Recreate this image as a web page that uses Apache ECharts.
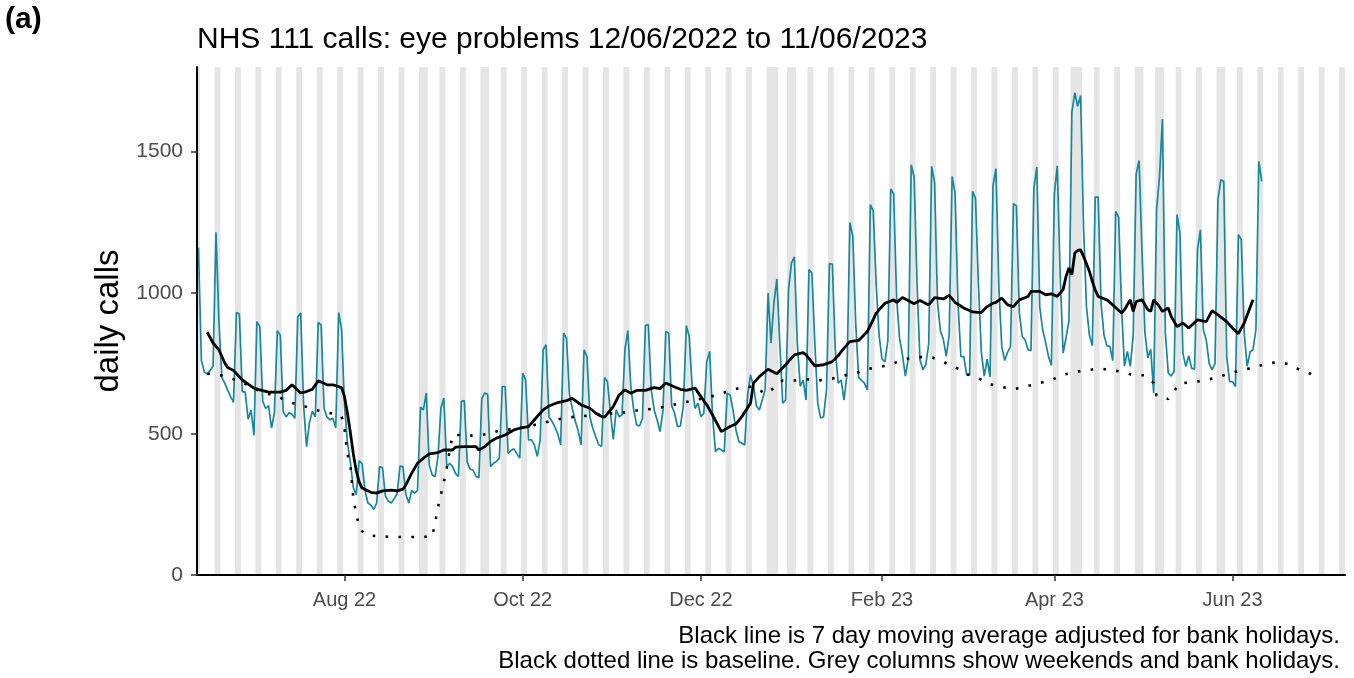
<!DOCTYPE html>
<html><head><meta charset="utf-8">
<script src="https://cdn.jsdelivr.net/npm/echarts@6/dist/echarts.min.js"></script>
<style>html,body{margin:0;padding:0;background:#fff}#c{width:1354px;height:678px}</style>
</head><body><div id="c"></div>
<script>
// ---------- data ----------
const startDate = '2022-06-12';
const dailyCalls = [
 1160,
 760,720,712,725,740,1214,900,
 700,680,655,632,612,930,925,
 650,648,552,585,495,898,880,
 615,590,600,521,574,866,850,
 580,560,575,570,555,915,928,
 600,455,540,580,560,895,885,
 590,560,550,555,522,930,870,
 600,470,400,310,285,405,395,
 300,255,248,232,255,384,380,
 280,262,255,270,288,386,384,
 285,255,300,290,300,595,585,
 645,390,355,349,420,592,627,
 384,396,384,360,349,615,618,
 400,375,372,349,345,625,645,
 640,384,396,402,414,668,668,
 431,441,447,430,414,715,691,
 479,479,461,420,480,798,816,
 560,545,525,500,461,857,839,
 640,590,545,510,461,798,774,
 560,520,490,462,455,700,686,
 580,480,585,561,567,800,866,
 668,585,532,528,555,885,887,
 656,585,550,508,580,863,857,
 600,573,526,528,600,883,845,
 668,590,609,561,573,756,792,
 561,437,449,443,437,644,638,
 585,514,473,467,461,640,709,
 668,600,585,620,656,999,822,
 963,1049,822,609,620,1011,1105,
 1127,822,668,691,620,1082,1070,
 822,609,556,561,656,1103,1102,
 798,680,691,620,709,1249,1200,
 893,700,690,680,656,1312,1290,
 1030,850,765,756,830,1368,1350,
 980,840,780,705,765,1454,1410,
 1030,762,727,745,820,1448,1390,
 965,865,835,775,850,1412,1355,
 965,774,774,709,709,1359,1335,
 1030,790,705,765,701,1380,1440,
 1020,810,760,790,810,1316,1308,
 930,845,833,798,795,1371,1446,
 950,869,825,774,742,1350,1450,
 1060,786,840,900,1640,1708,1661,
 1699,1230,950,850,812,1339,1339,
 960,850,812,810,760,1288,1268,
 950,740,792,739,850,1420,1469,
 1150,860,770,800,644,1294,1412,
 1616,857,715,705,721,1277,1212,
 786,739,777,733,729,1152,1223,
 869,833,750,727,750,1330,1400,
 1395,774,685,685,668,1206,1188,
 857,739,790,798,869,1466,1395
];

const avgDates = [
 '2022-06-15','2022-06-17','2022-06-19','2022-06-21','2022-06-22','2022-06-24','2022-06-27','2022-07-01','2022-07-03','2022-07-06',
 '2022-07-10','2022-07-12','2022-07-14','2022-07-17','2022-07-19','2022-07-21','2022-07-23','2022-07-26','2022-07-28','2022-07-31',
 '2022-08-01','2022-08-02','2022-08-03','2022-08-04','2022-08-05','2022-08-06','2022-08-07','2022-08-10','2022-08-12','2022-08-14',
 '2022-08-17','2022-08-19','2022-08-21','2022-08-22','2022-08-24','2022-08-26','2022-08-28','2022-08-30','2022-09-02','2022-09-04',
 '2022-09-07','2022-09-08','2022-09-11','2022-09-15','2022-09-16','2022-09-18','2022-09-20','2022-09-22','2022-09-25','2022-09-28',
 '2022-09-30','2022-10-03','2022-10-05','2022-10-08','2022-10-10','2022-10-13','2022-10-16','2022-10-18','2022-10-20','2022-10-21',
 '2022-10-24','2022-10-26','2022-10-28','2022-10-29','2022-11-01','2022-11-03','2022-11-05','2022-11-07','2022-11-09','2022-11-12',
 '2022-11-15','2022-11-17','2022-11-19','2022-11-22','2022-11-24','2022-11-26','2022-11-29','2022-12-01','2022-12-03','2022-12-05',
 '2022-12-08','2022-12-11','2022-12-13','2022-12-15','2022-12-18','2022-12-19','2022-12-21','2022-12-24','2022-12-27','2022-12-30',
 '2023-01-02','2023-01-05','2023-01-06','2023-01-09','2023-01-12','2023-01-15','2023-01-17','2023-01-19','2023-01-21','2023-01-24',
 '2023-01-27','2023-01-29','2023-01-30','2023-02-02','2023-02-05','2023-02-06','2023-02-08','2023-02-12','2023-02-14','2023-02-17',
 '2023-02-19','2023-02-22','2023-02-24','2023-02-26','2023-03-01','2023-03-04','2023-03-07','2023-03-09','2023-03-11','2023-03-12',
 '2023-03-14','2023-03-16','2023-03-18','2023-03-20','2023-03-23','2023-03-24','2023-03-27','2023-03-29','2023-03-31','2023-04-02',
 '2023-04-04','2023-04-05','2023-04-06','2023-04-07','2023-04-08','2023-04-09','2023-04-10','2023-04-11','2023-04-13','2023-04-14',
 '2023-04-15','2023-04-16','2023-04-19','2023-04-21','2023-04-24','2023-04-25','2023-04-27','2023-04-28','2023-04-29','2023-05-01',
 '2023-05-03','2023-05-04','2023-05-05','2023-05-07','2023-05-08','2023-05-10','2023-05-11','2023-05-13','2023-05-15','2023-05-17',
 '2023-05-20','2023-05-23','2023-05-25','2023-05-27','2023-05-30','2023-06-01','2023-06-03','2023-06-05','2023-06-08'
];
const avgValues = [
 860,822,798,751,735,725,691,662,656,648,
 648,654,674,645,650,658,688,674,674,664,
 632,573,505,430,370,330,308,293,290,298,
 301,298,304,319,361,396,414,429,434,443,
 443,453,455,455,443,455,473,485,496,514,
 520,526,550,585,599,611,618,626,611,603,
 591,573,562,559,597,638,656,644,654,654,
 664,660,680,666,658,654,662,632,603,567,
 508,526,535,561,609,680,703,729,713,745,
 780,788,780,741,745,756,777,804,827,831,
 863,905,928,963,975,966,983,961,973,957,
 983,978,991,966,946,932,930,951,963,966,
 981,957,951,975,987,1005,1005,993,996,987,
 1011,1058,1088,1064,1141,1150,1152,1129,1076,1040,
 1010,987,975,957,928,940,975,934,969,975,
 940,934,975,951,934,946,916,880,893,875,
 904,898,937,922,898,875,855,893,975
];

const baselineDates = [
 '2022-06-15','2022-06-20','2022-06-24','2022-06-28','2022-07-02','2022-07-05','2022-07-10','2022-07-14','2022-07-18','2022-07-22',
 '2022-07-27','2022-07-31','2022-08-01','2022-08-02','2022-08-03','2022-08-04','2022-08-05','2022-08-06','2022-08-07','2022-08-09',
 '2022-08-15','2022-08-22','2022-08-31','2022-09-01','2022-09-02','2022-09-03','2022-09-04','2022-09-05','2022-09-06','2022-09-07',
 '2022-09-11','2022-09-15','2022-09-19','2022-09-23','2022-09-28','2022-10-02','2022-10-06','2022-10-10','2022-10-15','2022-10-19',
 '2022-10-23','2022-10-28','2022-11-01','2022-11-06','2022-11-10','2022-11-14','2022-11-18','2022-11-23','2022-11-27','2022-12-06',
 '2022-12-10','2022-12-14','2022-12-19','2022-12-21','2022-12-23','2022-12-26','2022-12-29','2023-01-02','2023-01-06','2023-01-10',
 '2023-01-15','2023-01-19','2023-01-23','2023-01-27','2023-02-01','2023-02-05','2023-02-09','2023-02-13','2023-02-18','2023-02-22',
 '2023-02-26','2023-03-02','2023-03-06','2023-03-10','2023-03-14','2023-03-18','2023-03-23','2023-03-27','2023-03-31','2023-04-04',
 '2023-04-08','2023-04-12','2023-04-16','2023-04-20','2023-04-24','2023-04-28','2023-05-02','2023-05-05','2023-05-06','2023-05-10',
 '2023-05-12','2023-05-14','2023-05-18','2023-05-23','2023-05-27','2023-05-31','2023-06-04','2023-06-08','2023-06-12','2023-06-16',
 '2023-06-20','2023-06-24','2023-06-28'
];
const baselineValues = [
 713,707,694,677,656,645,628,610,599,585,
 574,562,518,428,390,275,215,175,155,140,
 136,134,136,183,240,285,330,380,440,496,
 496,493,500,512,517,524,534,544,556,561,
 564,571,573,577,585,588,595,606,615,636,
 650,662,668,656,642,662,689,689,694,689,
 696,707,715,730,739,750,765,772,772,754,
 737,712,697,676,666,658,670,680,691,709,
 720,725,732,727,720,708,708,680,635,624,
 652,680,682,691,701,715,725,735,747,754,
 748,727,712
];

const bankHolidays = ['2022-08-29','2022-09-19','2022-12-26','2022-12-27','2023-01-02','2023-04-07','2023-04-10','2023-05-01','2023-05-08','2023-05-29'];
const shadeFrom = '2022-06-12';
const shadeTo = '2023-07-09';
const xTickDates = ['2022-08-01','2022-10-01','2022-12-01','2023-02-01','2023-04-01','2023-06-01'];
const xTickLabels = ['Aug 22','Oct 22','Dec 22','Feb 23','Apr 23','Jun 23'];
const yTicks = [0, 500, 1000, 1500];

// ---------- helpers ----------
const DAY = 86400000;
function ts(s){ const p = s.split('-').map(Number); return Date.UTC(p[0], p[1]-1, p[2]); }
const t0 = ts(startDate);
const blueData = dailyCalls.map((v,i)=>[t0 + i*DAY, v]);
const avgData = avgDates.map((d,i)=>[ts(d), avgValues[i]]);
const baseData = baselineDates.map((d,i)=>[ts(d), baselineValues[i]]);
const bhSet = new Set(bankHolidays.map(ts));
const shadeAreas = [];
let runStart = null, prev = null;
for (let t = ts(shadeFrom); t <= ts(shadeTo); t += DAY) {
  const dow = new Date(t).getUTCDay();
  const grey = dow === 0 || dow === 6 || bhSet.has(t);
  if (grey) { if (runStart === null) runStart = t; prev = t; }
  else if (runStart !== null) { shadeAreas.push([{xAxis: runStart - DAY/2}, {xAxis: prev + DAY/2}]); runStart = null; }
}
if (runStart !== null) shadeAreas.push([{xAxis: runStart - DAY/2}, {xAxis: prev + DAY/2}]);
const xTickTs = xTickDates.map(ts);
const FONT = "'Liberation Sans', Arial, sans-serif";

const chart = echarts.init(document.getElementById('c'), null, {renderer: 'canvas'});
chart.setOption({
  animation: false,
  backgroundColor: '#ffffff',
  grid: {left: 197, right: 9, top: 67, bottom: 103},
  xAxis: {
    type: 'value', z: 20,
    min: ts(shadeFrom) - DAY/2,
    max: ts(shadeTo) + DAY/2,
    axisLine: {show: true, lineStyle: {color: '#000', width: 2}},
    axisTick: {show: true, customValues: xTickTs, length: 6, lineStyle: {color: '#333', width: 1.5}},
    axisLabel: {customValues: xTickTs, formatter: v => { const i = xTickTs.indexOf(v); return i >= 0 ? xTickLabels[i] : ''; },
      fontSize: 20, color: '#4D4D4D', margin: 15, fontFamily: FONT},
    splitLine: {show: false}
  },
  yAxis: {
    type: 'value', min: 0, max: 1800, z: 20,
    name: 'daily calls', nameLocation: 'middle', nameRotate: 90, nameGap: 64,
    nameTextStyle: {fontSize: 33, color: '#000', fontFamily: FONT},
    axisLine: {show: true, lineStyle: {color: '#000', width: 2}},
    axisTick: {show: true, customValues: yTicks, length: 6, lineStyle: {color: '#333', width: 1.5}},
    axisLabel: {customValues: yTicks, formatter: v => String(v), fontSize: 21, color: '#4D4D4D', margin: 14, fontFamily: FONT},
    splitLine: {show: false}
  },
  graphic: [
    {type: 'text', left: 5, top: 5, style: {text: '(a)', font: "bold 30px 'Liberation Sans', Arial, sans-serif", fill: '#000'}},
    {type: 'text', x: 197, y: 40, style: {text: 'NHS 111 calls: eye problems 12/06/2022 to 11/06/2023', font: "30px 'Liberation Sans', Arial, sans-serif", fill: '#000', verticalAlign: 'middle', align: 'left'}},
    {type: 'text', x: 1340, y: 636, style: {text: 'Black line is 7 day moving average adjusted for bank holidays.', font: "24px 'Liberation Sans', Arial, sans-serif", fill: '#000', verticalAlign: 'middle', align: 'right'}},
    {type: 'text', x: 1340, y: 661, style: {text: 'Black dotted line is baseline. Grey columns show weekends and bank holidays.', font: "24px 'Liberation Sans', Arial, sans-serif", fill: '#000', verticalAlign: 'middle', align: 'right'}}
  ],
  series: [
    {type: 'line', name: 'shade', data: [], silent: true, z: 1,
      markArea: {silent: true, itemStyle: {color: '#E5E5E5'}, data: shadeAreas}},
    {type: 'line', name: 'calls', data: blueData, showSymbol: false, z: 3,
      lineStyle: {color: '#16889B', width: 1.7}},
    {type: 'line', name: 'baseline', data: baseData, showSymbol: false, z: 4,
      lineStyle: {color: '#000', width: 2.6, type: [2.6, 10.3]}},
    {type: 'line', name: 'average', data: avgData, showSymbol: false, z: 5,
      lineStyle: {color: '#000', width: 2.8}}
  ]
});
</script>
</body></html>
